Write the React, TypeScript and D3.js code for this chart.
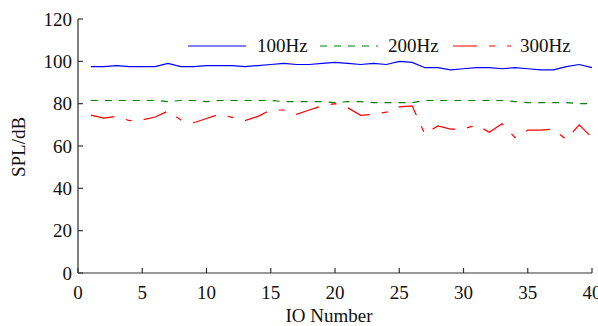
import React from "react";
import * as d3 from "d3";

const ioNumbers = d3.range(1, 41);
const spl100 = [97.5, 97.5, 98, 97.5, 97.5, 97.5, 99, 97.5, 97.5, 98, 98, 98, 97.5, 98, 98.5, 99, 98.5, 98.5, 99, 99.5, 99, 98.5, 99, 98.5, 100, 99.5, 97, 97, 96, 96.5, 97, 97, 96.5, 97, 96.5, 96, 96, 97.5, 98.5, 97];
const spl200 = [81.5, 81.5, 81.5, 81.5, 81.5, 81.5, 81, 81.5, 81.5, 81, 81.5, 81.5, 81.5, 81.5, 81.5, 81, 81, 81, 81, 80.5, 81, 81, 80.5, 80.5, 80.5, 80.5, 81.5, 81.5, 81.5, 81.5, 81.5, 81.5, 81.5, 81, 80.5, 80.5, 80.5, 80.5, 80, 80];
const spl300 = [74.6, 73.2, 74, 72, 72.3, 73.7, 76.5, 72.3, 71, 73, 75, 73.5, 72, 74, 77, 77, 75, 77, 79, 80, 78, 74.5, 75, 76, 78.5, 79, 65.5, 69.5, 68, 68, 70, 66.5, 70.5, 64, 67.5, 67.5, 68, 63, 70, 64];
const xTicks = [0, 5, 10, 15, 20, 25, 30, 35, 40];
const yTicks = [0, 20, 40, 60, 80, 100, 120];
const seriesNames = ["100Hz", "200Hz", "300Hz"];
const seriesColors = ["#0000ff", "#008000", "#ff0000"];
const seriesDash = ["none", "7,7", "24,12,6,12"];

export default function App() {
  const W = 598, H = 326;
  const x = d3.scaleLinear().domain([0, 40]).range([78, 592]);
  const y = d3.scaleLinear().domain([0, 120]).range([273, 19]);
  const line = d3.line<number>().x((_, i) => x(ioNumbers[i])).y((d) => y(d));
  const all = [spl100, spl200, spl300];
  const font = "'Liberation Serif', 'Times New Roman', serif";
  const legend = [
    { lx: 188, tx: 257 },
    { lx: 320, tx: 388 },
    { lx: 453, tx: 520 },
  ];
  return (
    <svg width={W} height={H} style={{ position: "absolute", left: 0, top: 0 }} fontFamily={font}>
      <rect width={W} height={H} fill="#fff" />
      {all.map((s, i) => (
        <path key={i} d={line(s) || ""} fill="none" stroke={seriesColors[i]} strokeWidth={1.2} strokeDasharray={seriesDash[i]} />
      ))}
      <line x1={78} x2={78} y1={y(120)} y2={y(0)} stroke="#808080" strokeWidth={2} />
      <line x1={78} x2={592} y1={273} y2={273} stroke="#333" strokeWidth={1.2} />
      {yTicks.map((t) => (
        <g key={t}>
          <line x1={78} x2={83} y1={y(t)} y2={y(t)} stroke="#333" strokeWidth={1.2} />
          <text x={72} y={y(t)} dy="0.35em" textAnchor="end" fontSize={19} fill="#111">{t}</text>
        </g>
      ))}
      {xTicks.map((t) => (
        <g key={t}>
          <line x1={x(t)} x2={x(t)} y1={273} y2={268} stroke="#333" strokeWidth={1.2} />
          <text x={x(t)} y={299} textAnchor="middle" fontSize={19} fill="#111">{t}</text>
        </g>
      ))}
      <text x={329} y={322} textAnchor="middle" fontSize={19} fill="#111">IO Number</text>
      <text transform={`translate(25,147) rotate(-90)`} textAnchor="middle" fontSize={19} fill="#111">SPL/dB</text>
      {legend.map((l, i) => (
        <g key={i}>
          <line x1={l.lx} x2={l.lx + 58} y1={46} y2={46} stroke={seriesColors[i]} strokeWidth={1.2} strokeDasharray={seriesDash[i]} />
          <text x={l.tx} y={52} fontSize={19} fill="#111">{seriesNames[i]}</text>
        </g>
      ))}
    </svg>
  );
}
